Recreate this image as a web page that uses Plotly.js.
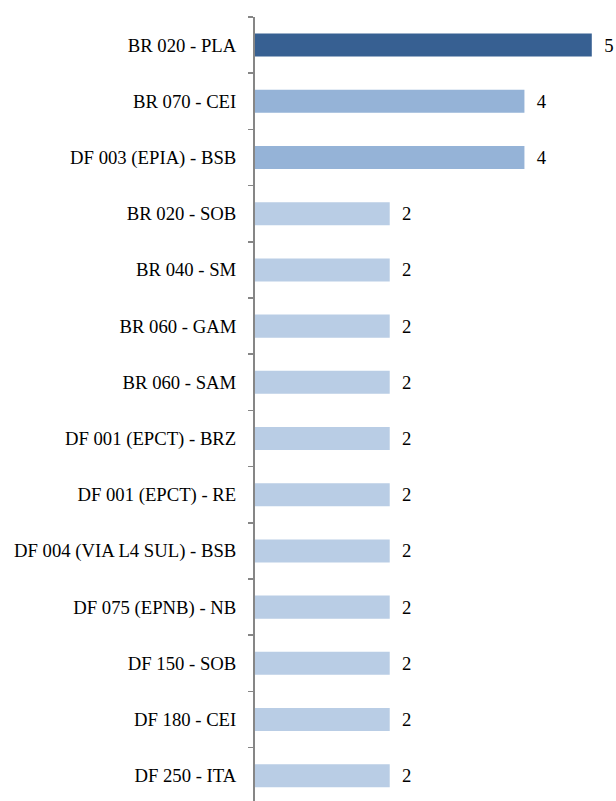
<!DOCTYPE html>
<html>
<head>
<meta charset="utf-8">
<script src="https://cdn.plot.ly/plotly-3.0.1.min.js"></script>
<style>html,body{margin:0;padding:0;background:#fff;}</style>
</head>
<body>
<div id="chart" style="width:616px;height:801px;"></div>
<script>
const categories = [
  "BR 020 - PLA", "BR 070 - CEI", "DF 003 (EPIA) - BSB", "BR 020 - SOB",
  "BR 040 - SM", "BR 060 - GAM", "BR 060 - SAM", "DF 001 (EPCT) - BRZ",
  "DF 001 (EPCT) - RE", "DF 004 (VIA L4 SUL) - BSB", "DF 075 (EPNB) - NB",
  "DF 150 - SOB", "DF 180 - CEI", "DF 250 - ITA"
];
const values = [5, 4, 4, 2, 2, 2, 2, 2, 2, 2, 2, 2, 2, 2];
const barColors = values.map(v => v >= 5 ? "#376092" : (v >= 4 ? "#95B3D7" : "#B9CDE5"));

const trace = {
  type: "bar",
  orientation: "h",
  y: categories,
  x: values,
  text: values.map(v => "\u2002" + v),
  textposition: "outside",
  cliponaxis: false,
  textfont: {family: "Liberation Serif", size: 18.7, color: "#000"},
  marker: {color: barColors, line: {width: 0}},
  hoverinfo: "none"
};

const layout = {
  width: 616,
  height: 801,
  margin: {l: 255, r: 4, t: 17, b: 0, pad: 0},
  paper_bgcolor: "#fff",
  plot_bgcolor: "#fff",
  showlegend: false,
  bargap: 0.59,
  font: {family: "Liberation Serif", size: 18.7, color: "#000"},
  xaxis: {
    range: [0, 5.3],
    showgrid: false,
    zeroline: false,
    showline: false,
    showticklabels: false,
    ticks: ""
  },
  yaxis: {
    type: "category",
    range: [13.45, -0.5],
    showgrid: false,
    zeroline: false,
    showline: true,
    linecolor: "#868686",
    linewidth: 2,
    ticks: "outside",
    tickson: "boundaries",
    ticklen: 5,
    tickwidth: 1.5,
    tickcolor: "#868686",
    ticklabelstandoff: 13,
    tickfont: {family: "Liberation Serif", size: 18.7, color: "#000"}
  }
};

Plotly.newPlot("chart", [trace], layout, {displayModeBar: false, staticPlot: true});
</script>
</body>
</html>
